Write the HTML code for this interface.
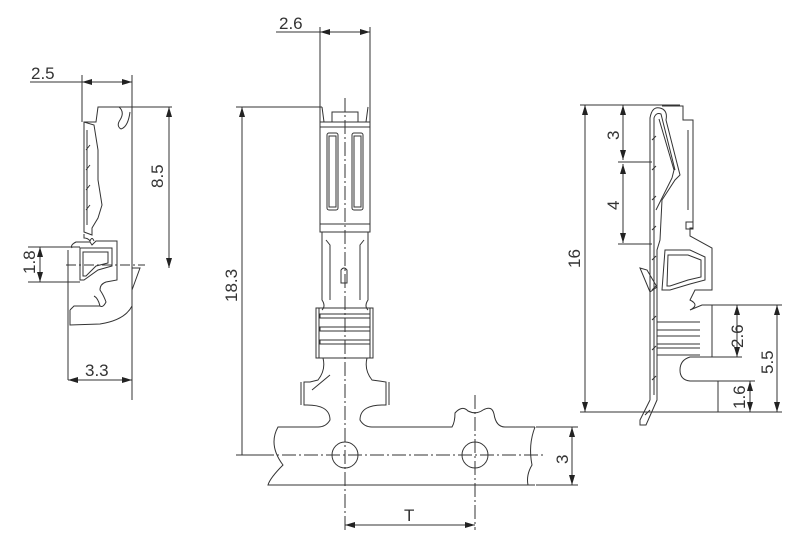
<!DOCTYPE html>
<html><head><meta charset="utf-8"><style>
html,body{margin:0;padding:0;background:#fff;}
svg{display:block;}
text{font-family:"Liberation Sans",sans-serif;font-size:17px;fill:#333;}
</style></head><body>
<svg width="800" height="544" viewBox="0 0 800 544" xmlns="http://www.w3.org/2000/svg">
<defs>
<marker id="a" markerWidth="10" markerHeight="6" refX="10" refY="3" orient="auto-start-reverse" markerUnits="userSpaceOnUse"><path d="M0,0 L10,3 L0,6 z" fill="#222"/></marker>
</defs>
<g fill="none" stroke="#333" stroke-width="1">

<!-- LEFT VIEW -->
<line x1="30" y1="82" x2="132" y2="82"/>
<line x1="82" y1="82" x2="132" y2="82" marker-start="url(#a)" marker-end="url(#a)"/>
<line x1="82" y1="75" x2="82" y2="122"/>
<line x1="132" y1="75" x2="132" y2="400"/>
<path d="M84,122 L96,122 L98,107 L119,107 M119,107 Q125,112 120,120 Q116,126 121,129 Q128,127 130,112"/>
<line x1="118" y1="107" x2="172" y2="107"/>
<line x1="169" y1="107" x2="169" y2="268" marker-start="url(#a)" marker-end="url(#a)"/>
<path d="M84,122 L84,232 L92,235 L92,228 L98,218 L102,205 L98,180 L98,150 L94,125 Z"/>
<path d="M87,130 L87,225 M90,145 L86,150 M90,165 L86,170 M90,185 L86,190 M90,205 L86,210"/>
<path d="M84,234 L84,238 Q88,238 90,241 Q92,236 94,241"/>
<path d="M72,248 Q70,245 76,242 L90,242 L92,245 L96,241 L117,241 L117,280 L106,282 Q100,284 100,290 Q104,296 106,302 Q103,308 100,306 Q98,298 94,296"/>
<path d="M68,250 L68,380"/>
<path d="M80,248 L112,248 L112,266 L98,270 L84,280 L80,280 Z"/>
<path d="M83,252 L108,252 L108,263 L96,266 L86,276 L83,276 Z"/>
<line x1="28" y1="247" x2="80" y2="247"/><line x1="28" y1="282" x2="80" y2="282"/>
<line x1="40" y1="247" x2="40" y2="282" marker-start="url(#a)" marker-end="url(#a)"/>
<line x1="66" y1="265" x2="145" y2="265" stroke-dasharray="10,3,2,3"/>
<path d="M132,268 L140,268 L132,290"/>
<path d="M70,310 L74,306 L100,306 M70,310 L70,325 L100,324 Q125,320 132,306"/>
<line x1="68" y1="380" x2="132" y2="380" marker-start="url(#a)" marker-end="url(#a)"/>

<!-- CENTER VIEW -->
<line x1="276" y1="32" x2="370" y2="32"/>
<line x1="320" y1="32" x2="370" y2="32" marker-start="url(#a)" marker-end="url(#a)"/>
<line x1="320" y1="27" x2="320" y2="108"/>
<line x1="370" y1="27" x2="370" y2="108"/>
<line x1="236" y1="107" x2="322" y2="107"/>
<line x1="242" y1="107" x2="242" y2="455" marker-start="url(#a)"/>
<line x1="236" y1="455" x2="262" y2="455"/>
<path d="M320,108 L320,122 M322,107 L324,122 M370,108 L370,122 M368,107 L366,122"/>
<rect x="332" y="112" width="26" height="10"/>
<rect x="320" y="122" width="50" height="110"/>
<line x1="320" y1="127" x2="370" y2="127"/>
<rect x="327" y="133" width="11" height="77" rx="2"/>
<rect x="329" y="136" width="7" height="71"/>
<rect x="352" y="133" width="11" height="77" rx="2"/>
<rect x="354" y="136" width="7" height="71"/>
<line x1="320" y1="224" x2="370" y2="224"/>
<path d="M322,232 L322,300 Q326,306 322,310 M368,232 L368,300 Q364,306 368,310"/>
<path d="M326,240 L330,245 L330,300 M364,240 L360,245 L360,300"/>
<path d="M341,270 L341,283 L347,283 L347,270 Q344,266 341,270 Z"/>
<rect x="316" y="308" width="57" height="50"/>
<line x1="319" y1="308" x2="319" y2="358"/><line x1="370" y1="308" x2="370" y2="358"/>
<rect x="320" y="314" width="50" height="4"/><rect x="320" y="327" width="50" height="4"/><rect x="320" y="340" width="50" height="4"/>
<path d="M323,358 Q326,370 318,380 L310,382 L304,382 L304,405 Q330,404 330,420 Q326,427 318,427 L278,427 Q268,445 283,465 Q270,478 268,485 L535,485"/>
<path d="M367,358 Q364,370 372,380 L386,382 L386,405 Q360,404 360,420 Q364,427 372,427 L452,427 Q455,422 455,413 Q462,405 468,411 Q476,415 483,410 Q492,405 494,414 Q496,427 505,427 L535,427"/>
<path d="M301,382 L301,405 M389,382 L389,405 M330,375 L312,390"/>
<path d="M535,427 Q528,445 532,465 Q526,475 528,485"/>
<circle cx="345" cy="455" r="13"/>
<circle cx="475" cy="455" r="13"/>
<line x1="260" y1="455" x2="545" y2="455" stroke-dasharray="14,3,2,3"/>
<line x1="345" y1="98" x2="345" y2="530" stroke-dasharray="14,3,2,3"/>
<line x1="475" y1="395" x2="475" y2="530" stroke-dasharray="14,3,2,3"/>
<line x1="536" y1="427" x2="578" y2="427"/><line x1="536" y1="485" x2="578" y2="485"/>
<line x1="572" y1="427" x2="572" y2="485" marker-start="url(#a)" marker-end="url(#a)"/>
<line x1="345" y1="525" x2="475" y2="525" marker-start="url(#a)" marker-end="url(#a)"/>

<!-- RIGHT VIEW -->
<line x1="580" y1="105" x2="680" y2="105"/>
<line x1="585" y1="105" x2="585" y2="412" marker-start="url(#a)" marker-end="url(#a)"/>
<line x1="580" y1="412" x2="720" y2="412"/>
<line x1="623" y1="105" x2="623" y2="160" marker-start="url(#a)" marker-end="url(#a)"/>
<line x1="618" y1="162" x2="652" y2="162"/>
<line x1="623" y1="164" x2="623" y2="243" marker-start="url(#a)" marker-end="url(#a)"/>
<line x1="618" y1="244" x2="652" y2="244"/>
<path d="M650,400 L650,118 Q652,106 660,108 Q668,110 666,120 L680,175 L675,180 L662,200 L660,240 L657,250 L657,400 L646,425 L640,425 L640,420 L650,400"/>
<path d="M654,395 L654,118 Q656,112 661,114 L675,170 M659,119 L674,170 L672,178 L656,210"/>
<path d="M652,140 L656,136 M652,170 L656,166 M652,200 L656,196 M652,230 L656,226 M652,260 L656,256 M652,290 L656,286 M652,320 L656,316 M652,350 L656,346 M652,380 L656,376 M645,415 L650,410"/>
<path d="M662,106 L683,106 L683,120 L693,120 L693,228 L690,228 L690,236 L712,248 L712,290 L695,290 L690,300 Q700,305 690,310 L702,305 L712,305 L712,357 L690,357 Q680,360 680,370 Q680,380 690,381 L718,381 L718,412"/>
<line x1="688" y1="130" x2="688" y2="210"/>
<rect x="686" y="222" width="7" height="7"/>
<path d="M665,250 L690,250 L705,257 L705,280 L690,284 L670,290 L662,290 Z"/>
<path d="M668,255 L688,255 L701,260 L701,277 L688,280 L670,286 L667,286 Z"/>
<path d="M640,268 L647,270 L657,287 L650,292 Z"/>
<path d="M657,322 L700,322 M657,330 L700,330 M657,336 L700,336 M657,344 L700,344 M657,348 L700,348 M657,355 L700,355"/>
<line x1="712" y1="305" x2="782" y2="305"/>
<line x1="712" y1="357" x2="742" y2="357"/>
<line x1="718" y1="381" x2="755" y2="381"/>
<line x1="737" y1="305" x2="737" y2="357" marker-start="url(#a)" marker-end="url(#a)"/>
<line x1="777" y1="305" x2="777" y2="412" marker-start="url(#a)" marker-end="url(#a)"/>
<line x1="750" y1="381" x2="750" y2="412" marker-start="url(#a)" marker-end="url(#a)"/>
<line x1="718" y1="412" x2="782" y2="412"/>
</g>

<text x="31" y="79">2.5</text>
<text transform="translate(163,188) rotate(-90)">8.5</text>
<text transform="translate(35,274) rotate(-90)">1.8</text>
<text x="85" y="376">3.3</text>
<text x="279" y="29">2.6</text>
<text transform="translate(237,302) rotate(-90)">18.3</text>
<text transform="translate(568,464) rotate(-90)">3</text>
<text x="404" y="521">T</text>
<text transform="translate(580,268) rotate(-90)">16</text>
<text transform="translate(619,140) rotate(-90)">3</text>
<text transform="translate(619,210) rotate(-90)">4</text>
<text transform="translate(743,348) rotate(-90)">2.6</text>
<text transform="translate(773,374) rotate(-90)">5.5</text>
<text transform="translate(745,409) rotate(-90)">1.6</text>
</svg>
</body></html>
